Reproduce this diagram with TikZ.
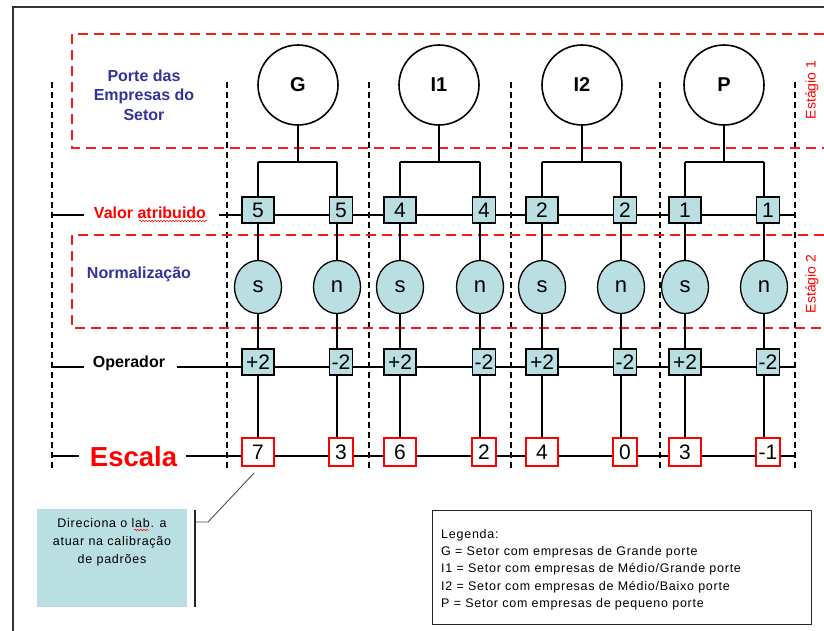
\documentclass[tikz,border=0pt]{standalone}
\usepackage{fontspec}
\setmainfont{Liberation Sans}
\newfontfamily\spaced[LetterSpace=6]{Liberation Sans}
\usetikzlibrary{shapes.geometric,decorations.pathmorphing}
\definecolor{cellblue}{HTML}{B9DFE2}
\definecolor{navytext}{HTML}{333399}
\definecolor{stagered}{HTML}{FF1A1A}
\pgfdeclarelayer{background}
\pgfsetlayers{background,main}
\newcommand{\fs}[2]{\fontsize{#1}{#2}\selectfont}
\begin{document}
\begin{tikzpicture}[x=1pt,y=-1pt,
  frameline/.style={line width=1.5pt,black!80},
  stagebox/.style={draw=stagered,line width=2.2pt,dash pattern=on 10pt off 6pt},
  colsep/.style={draw=black,line width=1.8pt,dash pattern=on 6pt off 4pt},
  stem/.style={draw=black,line width=1.8pt},
  rowline/.style={draw=black,line width=1.3pt},
  scaleline/.style={draw=black,line width=1.8pt},
  sizecircle/.style={circle,draw,line width=1.6pt,minimum size=80pt,inner sep=0pt,fill=white,font=\fs{20}{20}\bfseries},
  valwide/.style={rectangle,draw,line width=1.2pt,fill=cellblue,minimum width=32pt,minimum height=26pt,inner sep=0pt,font=\fs{21}{21}},
  valnarrow/.style={valwide,minimum width=23pt},
  normnode/.style={ellipse,draw,line width=1.3pt,fill=cellblue,minimum width=47pt,minimum height=53pt,inner sep=0pt,font=\fs{22}{22}},
  scalewide/.style={rectangle,draw=red,line width=2.2pt,fill=white,minimum width=32pt,minimum height=28pt,inner sep=0pt,font=\fs{21}{21}},
  scalenarrow/.style={scalewide,minimum width=24pt},
  rowlabel/.style={inner sep=0pt,font=\fs{16}{19.5}\bfseries},
  stagelabel/.style={rotate=90,inner sep=0pt,text=red,font=\fs{14}{14}},
  spell/.style={draw=red,line width=0.5pt,decorate,decoration={snake,amplitude=0.8pt,segment length=3pt}},
  leader/.style={draw=black!70,line width=0.9pt},
  bracket/.style={draw=black!85,line width=1.3pt}
]
\useasboundingbox (0,0) rectangle (824,630);

% ---- sector columns: size circle, assigned value, normalisation, operator, scale
\foreach \c/\cx/\sx/\nx/\txt/\v/\e/\f in {G/298/258/337/G/5/7/3, A/439/400/480/I1/4/6/2, B/582/542/621/I2/2/4/0, C/724/685/764/P/1/3/-1}{
  \node[sizecircle] (\c) at (\cx,85) {\txt};
  \node[valwide]     (v\c-s) at (\sx,210)   {\v};
  \node[valnarrow]   (v\c-n) at (\nx+4,210) {\v};
  \node[normnode]    (n\c-s) at (\sx,287)   {s};
  \node[normnode]    (n\c-n) at (\nx,287)   {n};
  \node[valwide]     (o\c-s) at (\sx,362)   {+2};
  \node[valnarrow]   (o\c-n) at (\nx+4,362) {-2};
  \node[scalewide]   (e\c-s) at (\sx,452)   {\e};
  \node[scalenarrow] (e\c-n) at (\nx+4,452) {\f};
  \coordinate (b\c)   at (\cx,162);
  \coordinate (b\c-s) at (\sx,162);
  \coordinate (b\c-n) at (\nx,162);
  \coordinate (t\c-s) at (\sx,452);
  \coordinate (t\c-n) at (\nx,452);
}

% ---- row titles
\node[rowlabel,text=navytext,align=center] (porte) at (144,95) {Porte das\\Empresas do\\Setor};
\node[rowlabel,text=red] (valor) at (150,213) {Valor atribuido};
\node[rowlabel,text=navytext] (norm) at (139,274) {Normalização};
\node[rowlabel] (oper) at (129,363) {Operador};
\node[inner sep=0pt,text=red,font=\fs{27.5}{27.5}\bfseries] (escala) at (133.5,457) {Escala};
\node[stagelabel] (st1) at (812,90) {Estágio 1};
\node[stagelabel] (st2) at (812,284) {Estágio 2};

% ---- note box
\node[rectangle,fill=cellblue,minimum width=150pt,minimum height=98pt,inner sep=0pt,anchor=north west] (noteBox) at (37,509) {};
\node[anchor=north,inner sep=0pt,align=center,font=\spaced\fs{12.5}{18}] (noteText) at (112,518)
  {Direciona o lab. a\\atuar na calibração\\de padrões};

% ---- legend
\node[rectangle,draw=black!85,line width=1.2pt,minimum width=379pt,minimum height=114pt,inner sep=0pt,anchor=north west] (legBox) at (432,510) {};
\node[anchor=north west,inner sep=0pt,align=left,font=\spaced\fs{12.5}{17.3}] (legText) at (441,529)
  {Legenda:\\
   G = Setor com empresas de Grande porte\\
   I1 = Setor com empresas de Médio/Grande porte\\
   I2 = Setor com empresas de Médio/Baixo porte\\
   P = Setor com empresas de pequeno porte};

% ---- free line ends
\coordinate (frTR) at (830,7);
\coordinate (frTL) at (13,7);
\coordinate (frBL) at (13,640);
\coordinate (s1a) at (840,34);  \coordinate (s1b) at (72,34);
\coordinate (s1c) at (72,148);  \coordinate (s1d) at (840,148);
\coordinate (s2a) at (840,235); \coordinate (s2b) at (72,235);
\coordinate (s2c) at (72,328);  \coordinate (s2d) at (840,328);
\coordinate (valL) at (52,215);  \coordinate (valM) at (84,215);
\coordinate (valN) at (219,215); \coordinate (valR) at (795,215);
\coordinate (opL) at (52,367);   \coordinate (opM) at (84,367);
\coordinate (opN) at (177,367);  \coordinate (opR) at (795,367);
\coordinate (esL) at (52,456);   \coordinate (esM) at (79,456);
\coordinate (esN) at (186,456);  \coordinate (esR) at (795,456);
\coordinate (ld1) at (208,522);  \coordinate (ld2) at (195,522);
\coordinate (bk1) at (195,510);  \coordinate (bk2) at (195,607);
\coordinate (sp1a) at (139,221); \coordinate (sp1b) at (207,221);
\coordinate (sp2a) at (134,530); \coordinate (sp2b) at (149,530);

\begin{pgfonlayer}{background}
  % outer frame
  \draw[frameline] (frTR) -- (frTL) -- (frBL);
  % column separators
  \foreach \x [count=\i] in {52,227,369,511,660,795}{
    \coordinate (sepT\i) at (\x,82);
    \coordinate (sepB\i) at (\x,470);
    \draw[colsep] (sepT\i) -- (sepB\i);
  }
  % stage boxes
  \draw[stagebox] (s1a) -- (s1b) -- (s1c) -- (s1d);
  \draw[stagebox] (s2a) -- (s2b) -- (s2c) -- (s2d);
  % row lines
  \draw[rowline] (valL) -- (valM);
  \draw[rowline] (valN) -- (valR);
  \draw[rowline] (opL) -- (opM);
  \draw[rowline] (opN) -- (opR);
  \draw[scaleline] (esL) -- (esM);
  \draw[scaleline] (esN) -- (esR);
  % tree stems
  \foreach \c in {G,A,B,C}{
    \draw[stem] (\c) -- (b\c);
    \draw[stem] (b\c-s) -- (b\c-n);
    \draw[stem] (b\c-s) -- (t\c-s);
    \draw[stem] (b\c-n) -- (t\c-n);
  }
\end{pgfonlayer}

% ---- note leader and bracket
\draw[leader] ([shift={(-4,6)}]eG-s.south) -- (ld1) -- (ld2);
\draw[bracket] (bk1) -- (bk2);

% ---- spelling marks
\draw[spell] (sp1a) -- (sp1b);
\draw[spell] (sp2a) -- (sp2b);
\end{tikzpicture}
\end{document}
